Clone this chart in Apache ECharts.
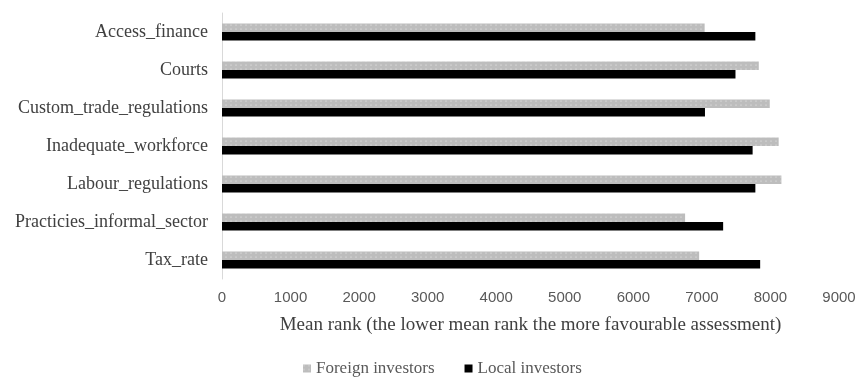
<!DOCTYPE html>
<html><head><meta charset="utf-8">
<script src="https://cdn.jsdelivr.net/npm/echarts@6/dist/echarts.min.js"></script>
<style>html,body{margin:0;padding:0;background:#fff}#c{width:859px;height:377px}</style>
</head><body><div id="c"></div>
<script>
const categories = ['Access_finance','Courts','Custom_trade_regulations','Inadequate_workforce','Labour_regulations','Practicies_informal_sector','Tax_rate'];
const foreignInvestors = [7040, 7830, 7990, 8120, 8160, 6755, 6960];
const localInvestors = [7780, 7490, 7045, 7740, 7780, 7310, 7850];
const xTicks = {min: 0, max: 9000, interval: 1000};
const xTitle = 'Mean rank (the lower mean rank the more favourable assessment)';

const chart = echarts.init(document.getElementById('c'), null, {renderer:'canvas'});
chart.setOption({
  animation: false,
  backgroundColor: '#fff',
  grid: {left: 222, right: 20, top: 13, height: 266, containLabel: false},
  legend: {
    top: 355, left: 298, itemWidth: 8, itemHeight: 8, itemGap: 30,
    textStyle: {fontFamily: 'Liberation Serif', fontSize: 17, color: '#595959'},
    data: [
      {name: 'Foreign investors', icon: 'rect'},
      {name: 'Local investors', icon: 'rect'}
    ]
  },
  xAxis: {
    type: 'value', min: xTicks.min, max: xTicks.max, interval: xTicks.interval,
    axisLine: {show: false}, axisTick: {show: false}, splitLine: {show: false},
    axisLabel: {fontFamily: 'Liberation Sans', fontSize: 15, color: '#595959', margin: 11,
      formatter: function (v) { return String(v); }},
    name: xTitle, nameLocation: 'middle', nameGap: 37,
    nameTextStyle: {fontFamily: 'Liberation Serif', fontSize: 19, color: '#404040'}
  },
  yAxis: {
    type: 'category', data: categories, inverse: true,
    axisLine: {show: true, lineStyle: {color: '#d9d9d9', width: 1}},
    axisTick: {show: false},
    axisLabel: {fontFamily: 'Liberation Serif', fontSize: 18, color: '#404040', margin: 14}
  },
  series: [
    {
      name: 'Foreign investors', type: 'bar', data: foreignInvestors,
      barWidth: 8.5, barGap: '0%',
      itemStyle: {
        color: '#bdbdbd',
        decal: {symbol: 'circle', symbolSize: 0.6, color: 'rgba(255,255,255,0.75)', dashArrayX: [[2, 3]], dashArrayY: [2, 2], rotation: 0}
      }
    },
    {
      name: 'Local investors', type: 'bar', data: localInvestors,
      barWidth: 8.5, barGap: '0%',
      itemStyle: {color: '#000000'}
    }
  ]
});
</script></body></html>
